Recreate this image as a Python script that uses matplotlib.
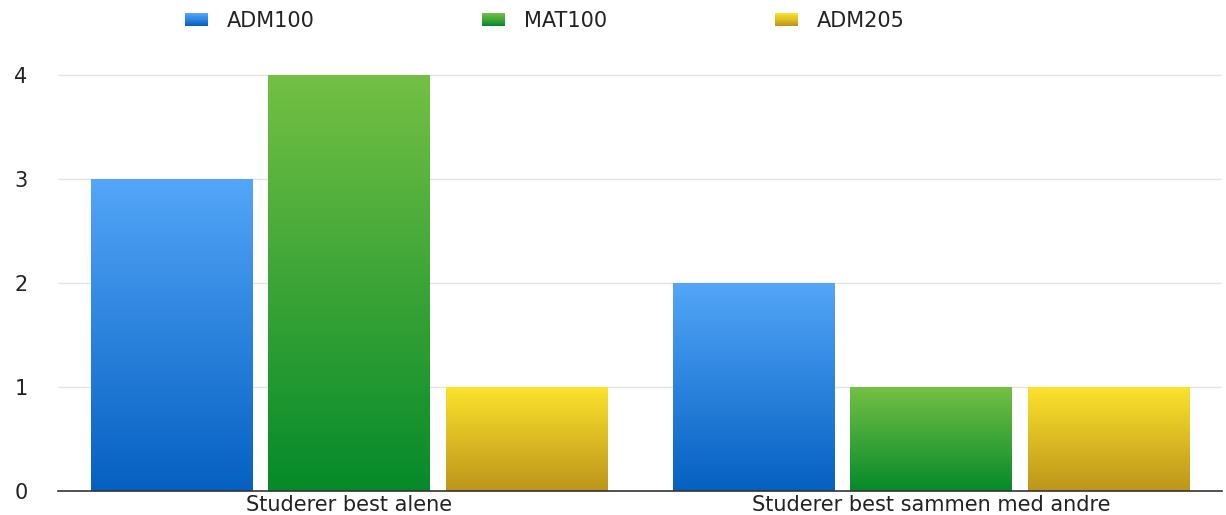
import numpy as np
import matplotlib
matplotlib.use("Agg")
import matplotlib.pyplot as plt
from matplotlib.colors import LinearSegmentedColormap, to_rgb
from matplotlib.patches import Rectangle
from matplotlib.legend_handler import HandlerBase

categories = ["Studerer best alene", "Studerer best sammen med andre"]
series_names = ["ADM100", "MAT100", "ADM205"]
adm100 = [3, 2]
mat100 = [4, 1]
adm205 = [1, 1]
yticks = [0, 1, 2, 3, 4]

values = [adm100, mat100, adm205]
grads = [("#53a6f8", "#0560c1"), ("#74c044", "#058a2a"), ("#fbe22c", "#bd951b")]

plt.rcParams['font.family'] = ['DejaVu Sans']
FS = 15

fig = plt.figure(figsize=(12.26, 5.15), dpi=100)
ax = fig.add_axes([58/1226, 1 - 491/515, 1164/1226, 4.2*104/515])

x = np.arange(len(categories))
width = 0.277
offset = 0.305

def gradient_fill(bar, top, bottom):
    x0, y0 = bar.get_x(), bar.get_y()
    w, h = bar.get_width(), bar.get_height()
    cmap = LinearSegmentedColormap.from_list("g", [bottom, top])
    grad = np.linspace(0, 1, 256).reshape(-1, 1)
    im = ax.imshow(grad, cmap=cmap, aspect='auto', origin='lower',
                   extent=[x0, x0 + w, y0, y0 + h], zorder=2, interpolation='bicubic')
    im.set_clip_path(bar)

for i, (vals, (top, bottom)) in enumerate(zip(values, grads)):
    bars = ax.bar(x + (i - 1) * offset, vals, width, facecolor='none',
                  edgecolor='none', zorder=2, label=series_names[i])
    for b in bars:
        gradient_fill(b, top, bottom)

ax.set_xlim(-0.5, 1.5)
ax.set_ylim(0, 4.2)
ax.set_yticks(yticks)
ax.set_xticks(x)
ax.set_xticklabels(categories, fontsize=FS, color='#222222')
ax.tick_params(axis='y', length=0, pad=22, labelsize=FS, labelcolor='#222222')
ax.tick_params(axis='x', length=0, pad=3)
for s in ['top', 'right', 'left']:
    ax.spines[s].set_visible(False)
ax.spines['bottom'].set_color('#333333')
ax.spines['bottom'].set_linewidth(1.2)
ax.spines['bottom'].set_zorder(3)
ax.yaxis.grid(True, color='#e4e4e4', linewidth=1)
ax.set_axisbelow(True)


class GradHandler(HandlerBase):
    def __init__(self, top, bottom):
        super().__init__()
        self.top = np.array(to_rgb(top))
        self.bottom = np.array(to_rgb(bottom))

    def create_artists(self, legend, orig_handle, xdescent, ydescent, width, height, fontsize, trans):
        arts = []
        n = 12
        y0 = -ydescent
        for k in range(n):
            t = k / (n - 1)
            c = self.bottom * (1 - t) + self.top * t
            r = Rectangle((-xdescent, y0 + height * k / n), width, height / n + 0.3,
                          facecolor=c, edgecolor='none', transform=trans)
            arts.append(r)
        return arts


handles = [Rectangle((0, 0), 1, 1) for _ in series_names]
hmap = {h: GradHandler(t, b) for h, (t, b) in zip(handles, grads)}
fig.legend(handles, series_names, handler_map=hmap, ncol=3, loc='center left',
           bbox_to_anchor=(185/1226, 1 - 21/515), frameon=False, fontsize=FS,
           handlelength=1.1, handleheight=0.6, handletextpad=0.9, columnspacing=8.05,
           borderpad=0, borderaxespad=0, labelcolor='#222222')

fig.savefig("out.png", dpi=100)
